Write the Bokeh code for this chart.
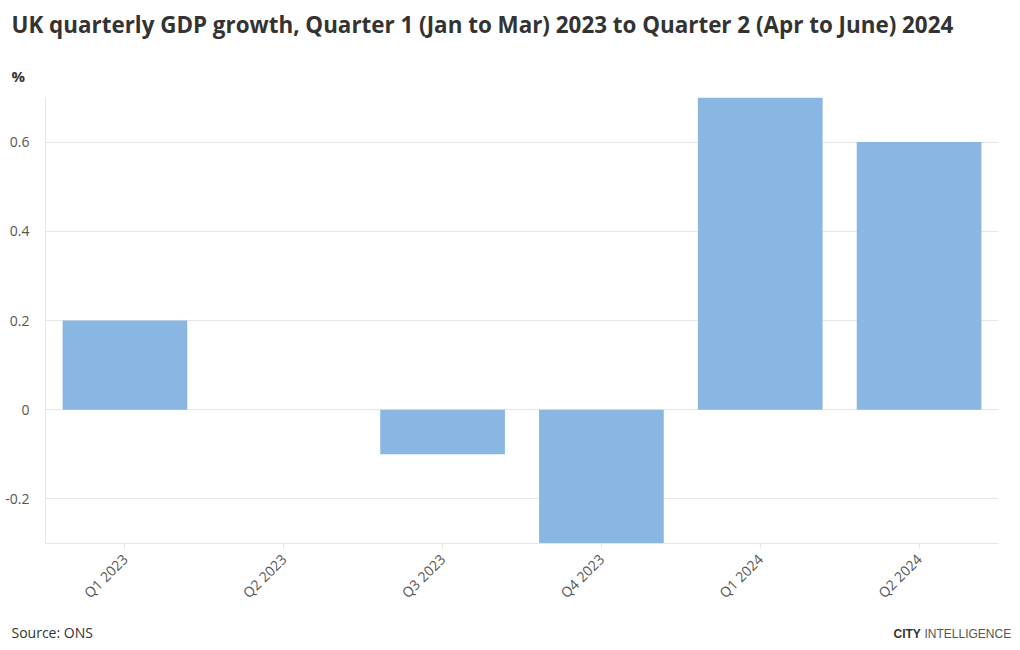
import math
from bokeh.plotting import figure
from bokeh.layouts import column, row
from bokeh.models import Label, FactorRange, Range1d, FixedTicker
from bokeh.embed import file_html
from bokeh.resources import INLINE

quarters = ["Q1 2023", "Q2 2023", "Q3 2023", "Q4 2023", "Q1 2024", "Q2 2024"]
growth = [0.2, 0.0, -0.1, -0.3, 0.7, 0.6]
y_ticks = [-0.2, 0, 0.2, 0.4, 0.6]
y_tick_labels = {-0.2: "-0.2", 0: "0", 0.2: "0.2", 0.4: "0.4", 0.6: "0.6"}

W = 1016
TOP_H = 97
FL, FR, FB = 45, W - 998, 75
FRAME_H = 446
BOT_H = 32


def text_fig(h):
    f = figure(width=W, height=h, x_range=Range1d(0, 1), y_range=Range1d(0, 1),
               output_backend="svg", toolbar_location=None,
               x_axis_location=None, y_axis_location=None,
               min_border=0, min_border_left=0, min_border_right=0,
               min_border_top=0, min_border_bottom=0)
    f.outline_line_color = None
    f.grid.visible = False
    return f


def lab(f, text, x, y, **kw):
    f.add_layout(Label(x=x, y=y, x_units="screen", y_units="screen",
                       text=text, text_baseline="alphabetic", **kw))


top = text_fig(TOP_H)
lab(top, "UK quarterly GDP growth, Quarter 1 (Jan to Mar) 2023 to Quarter 2 (Apr to June) 2024",
    11, TOP_H - 32 + 8, text_font="Open Sans", text_font_style="bold", text_font_size="22.4px",
    text_color="#333333")
lab(top, "%", 11, TOP_H - 80 + 5, text_font="Open Sans", text_font_style="bold",
    text_font_size="15px", text_color="#333333")

p = figure(width=W, height=FRAME_H + FB, x_range=FactorRange(*quarters, range_padding=0),
           y_range=Range1d(-0.3, 0.7), output_backend="svg", toolbar_location=None,
           min_border_left=FL, min_border_right=FR, min_border_top=0, min_border_bottom=FB)
p.outline_line_color = None

p.vbar(x=quarters, top=growth, bottom=0, width=0.785, fill_color="#89b6e2", line_color=None)

grid_col = "#e6e6e6"
p.xgrid.grid_line_color = None
p.ygrid.grid_line_color = grid_col
p.ygrid.ticker = FixedTicker(ticks=y_ticks)

p.yaxis.ticker = FixedTicker(ticks=y_ticks)
p.yaxis.major_label_overrides = {k: v for k, v in y_tick_labels.items()}
p.yaxis.axis_line_color = grid_col
p.yaxis.major_tick_line_color = None
p.yaxis.minor_tick_line_color = None
p.yaxis.major_label_standoff = 10
p.yaxis.major_label_text_font = "Open Sans"
p.yaxis.major_label_text_font_size = "14px"
p.yaxis.major_label_text_color = "#555555"

p.xaxis.axis_line_color = grid_col
p.xaxis.major_tick_line_color = grid_col
p.xaxis.major_tick_out = 5
p.xaxis.major_tick_in = 0
p.xaxis.major_label_orientation = math.pi / 4
p.xaxis.major_label_standoff = 8
p.xaxis.major_label_text_font = "Open Sans"
p.xaxis.major_label_text_font_size = "14px"
p.xaxis.major_label_text_color = "#555555"

bot = text_fig(BOT_H)
base = BOT_H - (636 - (TOP_H + FRAME_H + FB)) + 4
lab(bot, "Source: ONS", 11, base, text_font="Open Sans", text_font_size="14px",
    text_color="#333333")
lab(bot, "CITY", 893, base - 1, text_font="Liberation Sans", text_font_style="bold",
    text_font_size="12px", text_color="#333333")
lab(bot, "INTELLIGENCE", 924, base - 1, text_font="Liberation Sans", text_font_size="12px",
    text_color="#555555")

layout = column(row(top), p, row(bot), spacing=0)
open("out.html", "w").write(file_html(layout, INLINE))
